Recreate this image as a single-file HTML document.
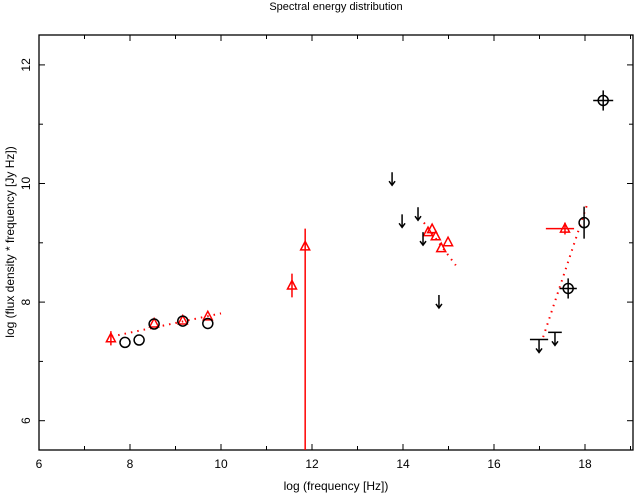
<!DOCTYPE html>
<html><head><meta charset="utf-8"><style>
body{margin:0;background:#fff;}
svg{display:block;font-family:"Liberation Sans",sans-serif;}
</style></head><body>
<svg id="chart" width="635" height="496">
<text x="336" y="10" font-size="11" text-anchor="middle">Spectral energy distribution</text>
<text x="336" y="490" font-size="12" text-anchor="middle">log (frequency [Hz])</text>
<text transform="translate(14,242) rotate(-90)" font-size="12" text-anchor="middle">log (flux density * frequency [Jy Hz])</text>
<g id="axes"></g><g id="marks"></g>
</svg>
<script>
const xTicks=[6,8,10,12,14,16,18];
const yTicks=[6,8,10,12];
// red triangles: x, y
const triX=[7.58,8.53,9.16,9.71,11.56,11.85,14.55,14.64,14.72,14.84,14.99,17.56];
const triY=[7.39,7.64,7.69,7.76,8.28,8.94,9.18,9.23,9.11,8.91,9.01,9.24];
const triYErrLo=[0.12,0,0,0,0.2,4,0,0,0,0,0,0.1];
const triYErrHi=[0.12,0,0,0,0.2,0.3,0,0,0,0,0,0.1];
const triXErrLo=[0,0,0,0,0,0,0,0,0,0,0,0.42];
const triXErrHi=[0,0,0,0,0,0,0,0,0,0,0,0.2];
// black circles
const circX=[7.89,8.20,8.53,9.16,9.71,17.63,17.98,18.4];
const circY=[7.32,7.36,7.63,7.68,7.64,8.23,9.34,11.4];
const circXErr=[0,0,0,0,0,0.19,0,0.22];
const circYErr=[0,0,0,0,0,0.17,0.27,0.17];
// upper limits
const ulX=[13.76,13.98,14.33,14.44,14.79,16.99,17.34];
const ulY=[10.19,9.48,9.60,9.18,8.12,7.37,7.49];
const ulXErr=[0,0,0,0,0,0.2,0.15];
// dotted fit lines [x0,y0,x1,y1]
const fitLines=[[7.6,7.42,10.0,7.81],[14.46,9.34,15.16,8.62],[17.08,7.41,18.04,9.63]];

const L=39,R=635,T=35,B=450;
const X=v=>L+(v-6)*45.5;
const Y=v=>420.7-(v-6)*59.3;
const NS="http://www.w3.org/2000/svg";
function mk(tag,attrs,parent){const e=document.createElementNS(NS,tag);for(const k in attrs)e.setAttribute(k,attrs[k]);parent.appendChild(e);return e;}
const ax=document.getElementById('axes'),mg=document.getElementById('marks');
let f=mk('rect',{x:L,y:T,width:R-L-2,height:B-T,fill:'none',stroke:'#000','stroke-width':1.3},ax);


for(let v=6;v<=19;v++){const x=X(v),len=v%2==0?6:4;
 mk('line',{x1:x,y1:B,x2:x,y2:B-len,stroke:'#000'},ax);mk('line',{x1:x,y1:T,x2:x,y2:T+len,stroke:'#000'},ax);}
xTicks.forEach(v=>{const t=mk('text',{x:X(v),y:468,'font-size':12,'text-anchor':'middle'},ax);t.textContent=v;
 
 });
for(let v=6;v<=12;v++){const y=Y(v),len=v%2==0?6:4;
 mk('line',{x1:L,y1:y,x2:L+len,y2:y,stroke:'#000'},ax);mk('line',{x1:R-2,y1:y,x2:R-2-len,y2:y,stroke:'#000'},ax);}
yTicks.forEach(v=>{const t=mk('text',{transform:`translate(30,${Y(v)}) rotate(-90)`,'font-size':12,'text-anchor':'middle'},ax);t.textContent=v;
 
 });
fitLines.forEach(l=>{const e=mk('line',{x1:X(l[0]),y1:Y(l[1]),x2:X(l[2]),y2:Y(l[3]),stroke:'red','stroke-width':2,'stroke-dasharray':'1.5 5'},mg);
 
 });
triX.forEach((v,i)=>{const g=mk('g',{stroke:'red','stroke-width':1.5,fill:'none'},mg);
 
 
 const x=X(v),y=Y(triY[i]);
 if(triYErrLo[i]||triYErrHi[i])mk('line',{x1:x,y1:Math.min(B,Y(triY[i]-triYErrLo[i])),x2:x,y2:Y(triY[i]+triYErrHi[i])},g);
 if(triXErrLo[i]||triXErrHi[i])mk('line',{x1:X(v-triXErrLo[i]),y1:y,x2:X(v+triXErrHi[i]),y2:y},g);
 mk('polygon',{points:`${x},${y-5} ${x-4.5},${y+3.5} ${x+4.5},${y+3.5}`},g);});
circX.forEach((v,i)=>{const g=mk('g',{stroke:'#000','stroke-width':1.5,fill:'none'},mg);
 
 
 const x=X(v),y=Y(circY[i]);
 if(circXErr[i])mk('line',{x1:X(v-circXErr[i]),y1:y,x2:X(v+circXErr[i]),y2:y},g);
 if(circYErr[i])mk('line',{x1:x,y1:Y(circY[i]-circYErr[i]),x2:x,y2:Y(circY[i]+circYErr[i])},g);
 mk('circle',{cx:x,cy:y,r:5},g);});
ulX.forEach((v,i)=>{const g=mk('g',{stroke:'#000','stroke-width':1.5,fill:'none'},mg);
 
 
 const x=X(v),y=Y(ulY[i]);
 if(ulXErr[i])mk('line',{x1:X(v-ulXErr[i]),y1:y,x2:X(v+ulXErr[i]),y2:y},g);
 mk('line',{x1:x,y1:y,x2:x,y2:y+13},g);
 mk('polyline',{points:`${x-3},${y+9} ${x},${y+13} ${x+3},${y+9}`},g);});
</script>
</body></html>
